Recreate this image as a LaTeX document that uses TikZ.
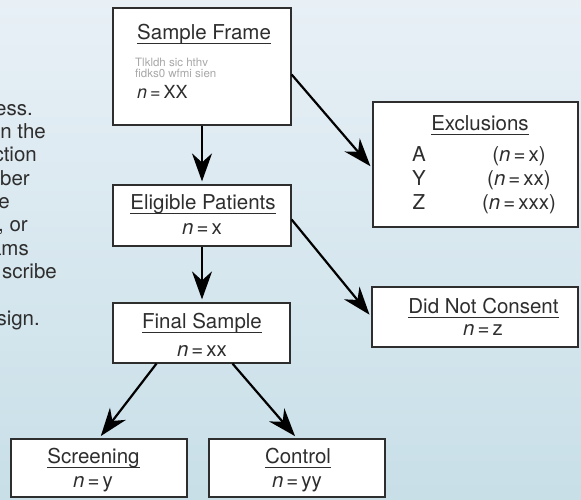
\documentclass[tikz,border=0pt]{standalone}
\usepackage{fontspec}
\setmainfont{TeX Gyre Heros}
\usetikzlibrary{arrows.meta}

\definecolor{bgtop}{HTML}{E8F0F6}
\definecolor{bgbot}{HTML}{C8DFE8}
\definecolor{ink}{HTML}{2E2E2E}
\definecolor{greek}{HTML}{A8A8A8}

\newcommand{\ulbox}[1]{\setbox0=\hbox{#1}\rlap{\rule[-5pt]{\wd0}{1.3pt}}\box0}
\newcommand{\nval}[1]{\textit{n}\kern3pt=\kern3pt#1}

\begin{document}
\begin{tikzpicture}[x=1pt,y=1pt]
\tikzstyle{every node}+=[inner sep=0pt, text=ink]
\tikzstyle{box}=[draw=ink, fill=white, line width=1.2pt, rectangle]
\tikzstyle{big}=[font=\fontsize{20.5}{24}\selectfont]
\tikzstyle{arr}=[line width=2.2pt, -{Stealth[length=28pt,width=20pt,inset=9pt]}, shorten >=3pt]
\useasboundingbox (0,0) rectangle (581,-499);
\shade [top color=bgtop, bottom color=bgbot] (0,0) rectangle (581,-499);
% text running in from the left edge
\node [big, anchor=base east] (p1) at (33,-115) {ess.};
\node [big, anchor=base east] (p2) at (46,-138.3) {n the};
\node [big, anchor=base east] (p3) at (37,-161.7) {ction};
\node [big, anchor=base east] (p4) at (30,-185) {ber};
\node [big, anchor=base east] (p5) at (10,-208.3) {e};
\node [big, anchor=base east] (p6) at (28,-231.7) {, or};
\node [big, anchor=base east] (p7) at (29,-255) {ams};
\node [big, anchor=base east] (p8) at (57,-278.3) {scribe};
\node [big, anchor=base east] (p9) at (40,-325) {sign.};
% boxes
\node [box, minimum width=178, minimum height=117] (frame) at (202,-66.5) {};
\node [box, minimum width=178, minimum height=61] (elig) at (202,-215.5) {};
\node [box, minimum width=177, minimum height=60] (final) at (201.5,-333) {};
\node [box, minimum width=176, minimum height=58] (screen) at (99,-468) {};
\node [box, minimum width=176, minimum height=58] (control) at (297,-468) {};
\node [box, minimum width=205, minimum height=125] (excl) at (475.5,-164.5) {};
\node [box, minimum width=206, minimum height=60] (dnc) at (475,-317) {};
% box texts
\node [big, anchor=base west] (frametitle) at (137,-39) {\ulbox{Sample Frame}};
\node [anchor=base west, text=greek, font=\fontsize{11.5}{10}\selectfont] (framefill1) at (135,-66) {Tlkldh sic hthv};
\node [anchor=base west, text=greek, font=\fontsize{11.5}{10}\selectfont] (framefill2) at (135,-77.5) {fidks0 wfmi sien};
\node [anchor=base west, font=\fontsize{18}{20}\selectfont] (framen) at (137,-98) {\nval{XX}};
\node [big, anchor=base] (eligtitle) at (203,-209) {\ulbox{Eligible Patients}};
\node [big, anchor=base] (elign) at (202,-234) {\nval{x}};
\node [big, anchor=base] (finaltitle) at (202,-328) {\ulbox{Final Sample}};
\node [big, anchor=base] (finaln) at (202,-356) {\nval{xx}};
\node [big, anchor=base] (screentitle) at (93.5,-463) {\ulbox{Screening}};
\node [big, anchor=base] (screenn) at (93,-487) {\nval{y}};
\node [big, anchor=base] (controltitle) at (298,-463) {\ulbox{Control}};
\node [big, anchor=base] (controln) at (297,-487) {\nval{yy}};
\node [big, anchor=base] (excltitle) at (480,-130) {\ulbox{Exclusions}};
\node [big, anchor=base] (exclA) at (419,-161) {A};
\node [big, anchor=base] (exclAn) at (519,-161) {(\nval{x})};
\node [big, anchor=base] (exclY) at (419,-185) {Y};
\node [big, anchor=base] (exclYn) at (519,-185) {(\nval{xx})};
\node [big, anchor=base] (exclZ) at (419,-209) {Z};
\node [big, anchor=base] (exclZn) at (519,-209) {(\nval{xxx})};
\node [big, anchor=base] (dnctitle) at (483.5,-313) {\ulbox{Did Not Consent}};
\node [big, anchor=base] (dncn) at (483,-335) {\nval{z}};
% arrows
\draw [arr] (frame.south) -- (elig.north);
\draw [arr] (elig.south) -- (elig.south |- final.north);
\draw [arr] ([yshift=-8pt]frame.east) -- ([yshift=-4pt]excl.west);
\draw [arr] ([yshift=-4pt]elig.east) -- (dnc.west);
\draw [arr] ([xshift=-45pt]final.south) -- (screen.north);
\draw [arr] ([xshift=31pt]final.south) -- (control.north);
\end{tikzpicture}
\end{document}
